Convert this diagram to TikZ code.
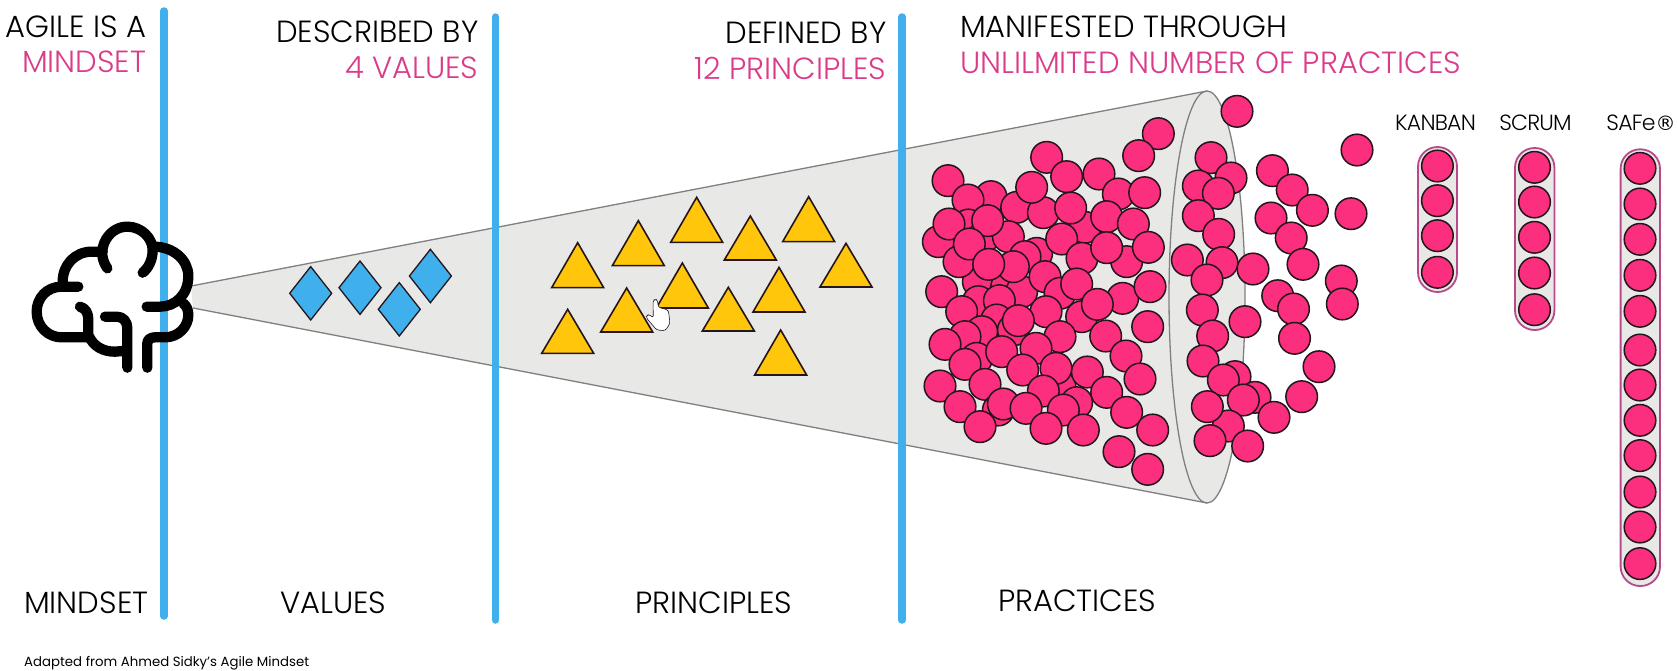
\documentclass[tikz,border=0pt]{standalone}
\usepackage{fontspec}
\setmainfont{Poppins}
\newfontfamily\lightf{Poppins Light}
\newfontfamily\regmark{DejaVu Sans}
\definecolor{barblue}{HTML}{3FB0EC}
\definecolor{ballpink}{HTML}{FB2F7E}
\definecolor{txtpink}{HTML}{DB3C8A}
\definecolor{pillpink}{HTML}{B84A8C}
\definecolor{conegray}{HTML}{E8E8E7}
\definecolor{conestroke}{HTML}{808080}
\definecolor{triyellow}{HTML}{FFC60B}
\definecolor{inkdark}{HTML}{25151C}
\tikzset{
  bar/.style={line width=7.5pt,barblue,line cap=round},
  ball/.style={fill=ballpink,draw=inkdark,line width=1.5pt},
  tri/.style={fill=triyellow,draw=inkdark,line width=1.6pt,line join=miter},
  gem/.style={fill=barblue,draw=inkdark,line width=1.3pt,line join=miter},
  pill/.style={fill=conegray,draw=pillpink,line width=1.8pt,rounded corners=19.5pt},
  brainline/.style={line width=10.3pt,black,line cap=round,line join=round},
  bigt/.style={inner sep=0pt,font=\lightf\fontsize{30.6}{34}\selectfont},
  midt/.style={inner sep=0pt,font=\lightf\fontsize{22}{24}\selectfont\addfontfeature{LetterSpace=-3.5}},
  smallt/.style={inner sep=0pt,font=\fontsize{13.3}{16}\selectfont},
  pinkt/.style={text=txtpink}
}
\begin{document}
\begin{tikzpicture}[x=1pt,y=-1pt]
\useasboundingbox[fill=white] (0,0) rectangle (1677,670);
% cone
\fill[conegray] (191,286) -- (1207,91) -- (1207,503) -- (193,308) -- cycle;
\fill[conegray] (1207,297) ellipse [x radius=38pt,y radius=206pt];
\draw[conestroke,line width=1.3pt] (191,286) -- (1207,91);
\draw[conestroke,line width=1.3pt] (193,308) -- (1207,503);
\draw[conestroke,line width=1.3pt] (1207,297) ellipse [x radius=38pt,y radius=206pt];
% bars
\draw[bar] (164,11) -- (164,616);
\draw[bar] (495.5,17) -- (495.5,620);
\draw[bar] (902,17) -- (902,620);
% diamonds
\foreach \p/\q in {310.7/293.3,360/287.7,399.3/309.3,430.4/276}
  \draw[gem] (\p-21,\q) -- (\p,\q-26.7) -- (\p+21,\q) -- (\p,\q+26.7) -- cycle;
% triangles
\begin{scope}[shift={(520pt,-180pt)},x=0.33333pt,y=-0.33333pt]
\foreach \p/\q/\r in {173/188/323,355/122/257,530/52/187,691/108/240,866/50/185,978/190/321,487/249/384,777/262/396,625/322/453,320/324/456,143/388/520,782/450/585}
  \draw[tri] (\p-78,\r) -- (\p,\q) -- (\p+78,\r) -- cycle;
% cursor
\draw[fill=white,draw=inkdark,line width=0.6pt,rounded corners=2.5pt] (399,360) -- (412,358) -- (415,382) -- (445,390) -- (450,430) -- (436,452) -- (410,450) -- (377,411) -- (386,402) -- (400,414) -- cycle;
\end{scope}
% balls: lower crowd, hidden ones first
\begin{scope}[shift={(910pt,-280pt)},x=0.33333pt,y=-0.33333pt]
\foreach \p/\q in {205/5,290/20,335/35}
  \draw[ball] (\p,\q) circle [radius=15.8pt];
\end{scope}
% balls: upper crowd
\begin{scope}[shift={(910pt,-150pt)},x=0.33333pt,y=-0.33333pt]
\foreach \p/\q in {114/92,243/140,174/150,410/22,470/80,567/72,320/172,400/188,365/112,525/232,482/174,625/132,704/128,590/200,670/222,175/225,85/275,220/262,295/260,117/222,233/212,147/335,178/282,380/310,345/320,455/267,516/325,650/335,590/293,715/292,310/350,236/343,405/380}
  \draw[ball] (\p,\q) circle [radius=15.8pt];
\end{scope}
% balls: lower crowd
\begin{scope}[shift={(910pt,-280pt)},x=0.33333pt,y=-0.33333pt]
\foreach \p/\q in {95/35,205/65,155/95,268/62,450/40,500/12,638/55,720/20,515/110,562/73,408/95,260/120,310/150,325/122,215/155,165/170,450/170,587/168,713/140,105/193,200/235,275/215,378/205,165/253,338/270,648/228,690/297,450/320,438/265,532/276,400/333,90/318,225/313,590/337,500/368,150/380,265/390,280/372,348/385,460/390,650/397,210/440,408/445,520/450,728/450}
  \draw[ball] (\p,\q) circle [radius=15.8pt];
\end{scope}
% balls: mouth of the cone
\begin{scope}[shift={(900pt,-80pt)},x=0.33333pt,y=-0.33333pt]
\foreach \p/\q in {775/161,716/227,1011/94,933/233,993/294,895/318,955/340,895/407,956/463,862/540,966/548,1059/567}
  \draw[ball] (\p,\q) circle [radius=15.8pt];
\end{scope}
\begin{scope}[shift={(900pt,-280pt)},x=0.33333pt,y=-0.33333pt]
\foreach \p/\q in {657/515,743/568,921/0,907/90,938/168,909/243,1005/290,970/300,1065/352,1030/360,985/438,922/380,1122/412,930/482,1043/498,1035/125,1205/350}
  \draw[ball] (\p,\q) circle [radius=15.8pt];
\end{scope}
\foreach \p/\q in {1272.4/170.7,1292.2/190,1312.4/210.3,1351/213.7,1271/218,1291.2/238,1303/264.3,1341.3/281,1342.3/304,1277.7/295.7,1293.5/309,1294.5/338.3,1319/366.7,1357/150}
  \draw[ball] (\p,\q) circle [radius=15.8pt];
% practice stacks
\draw[pill] (1418,147) rectangle (1457,292);
\foreach \q in {166,200.7,235.7,272.3}
  \draw[ball] (1437.4,\q) circle [radius=15.8pt];
\draw[pill] (1515,148) rectangle (1554.4,330);
\foreach \q in {167.3,202,237.3,273,309.7}
  \draw[ball] (1534.5,\q) circle [radius=15.8pt];
\draw[pill] (1620.6,149.3) rectangle (1660,586);
\foreach \q in {168.3,204,239.3,275.3,311.3,350,385,420.3,455.6,492,527,563.6}
  \draw[ball] (1640,\q) circle [radius=15.8pt];
% brain
\begin{scope}[shift={(0pt,-200pt)},x=0.33333pt,y=-0.33333pt]
\draw[brainline] (322,205) .. controls (305,180) and (300,150) .. (318,118) .. controls (335,90) and (360,80) .. (382,80) .. controls (425,80) and (458,115) .. (458,150) .. controls (458,180) and (445,205) .. (428,218);
\draw[brainline] (462,140) .. controls (520,140) and (565,180) .. (565,228) .. controls (565,285) and (525,320) .. (480,320) -- (440,320);
\draw[brainline] (308,155) -- (275,155) .. controls (225,155) and (188,195) .. (188,245);
\draw[brainline] (235,260) -- (185,260) .. controls (140,260) and (110,295) .. (110,335) .. controls (110,380) and (145,412) .. (185,412) -- (262,412);
\draw[brainline] (240,320) .. controls (258,325) and (265,340) .. (265,360) -- (265,405) .. controls (280,440) and (310,455) .. (345,455) -- (380,452);
\draw[brainline] (315,350) -- (350,350) .. controls (370,350) and (382,365) .. (382,385) -- (382,503);
\draw[brainline] (442,503) -- (442,430) .. controls (442,418) and (452,412) .. (465,412) -- (495,412) .. controls (535,412) and (565,380) .. (565,345) .. controls (565,330) and (560,318) .. (550,310);
\end{scope}
% texts
\node[bigt,anchor=base east] (t1) at (146.5,37) {AGILE IS A};
\node[bigt,pinkt,anchor=base east] (t2) at (146.5,72.7) {MINDSET};
\node[bigt,anchor=base east] (t3) at (478.6,42.7) {DESCRIBED BY};
\node[bigt,pinkt,anchor=base east] (t4) at (478.6,78.7) {4 VALUES};
\node[bigt,anchor=base east] (t5) at (886.6,43) {DEFINED BY};
\node[bigt,pinkt,anchor=base east] (t6) at (886.6,79) {12 PRINCIPLES};
\node[bigt,anchor=base west] (t7) at (960,37.4) {MANIFESTED THROUGH};
\node[bigt,pinkt,anchor=base west] (t8) at (960,73.8) {UNLILMITED NUMBER OF PRACTICES};
\node[bigt,anchor=base west] (b1) at (24,613.5) {MINDSET};
\node[bigt,anchor=base west] (b2) at (280,613.5) {VALUES};
\node[bigt,anchor=base west] (b3) at (635,613.5) {PRINCIPLES};
\node[bigt,anchor=base west] (b4) at (998,611.5) {PRACTICES};
\node[smallt,anchor=base west] (src) at (24,666) {Adapted from Ahmed Sidky's Agile Mindset};
\node[midt,anchor=base] (k) at (1435.5,130.7) {KANBAN};
\node[midt,anchor=base] (s) at (1535.5,130.7) {SCRUM};
\node[midt,anchor=base] (f) at (1641,130.7) {SAFe{\regmark\fontsize{20}{22}\selectfont ®}};
\end{tikzpicture}
\end{document}
